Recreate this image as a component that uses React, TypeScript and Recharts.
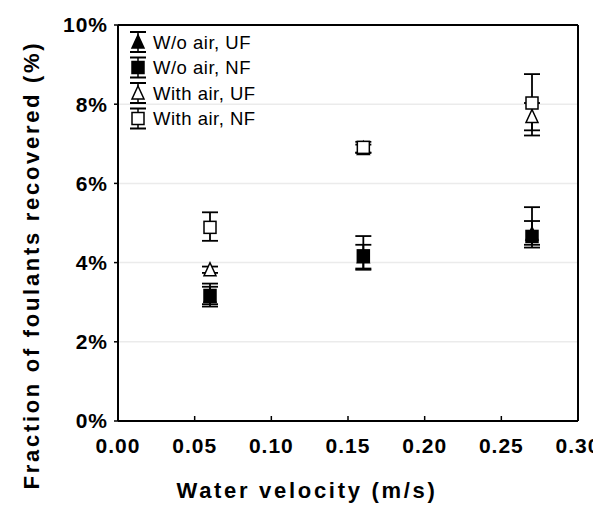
import React from 'react';
import { ScatterChart, Scatter, XAxis, YAxis, CartesianGrid, ErrorBar, Legend } from 'recharts';

const velocities = [0.06, 0.16, 0.27];
const seriesNames = ['W/o air, UF', 'W/o air, NF', 'With air, UF', 'With air, NF'];
const woAirUF = [3.15, 4.15, 4.72];
const woAirUFErr = [[0.2, 0.24], [0.3, 0.3], [0.27, 0.68]];
const woAirNF = [3.17, 4.17, 4.66];
const woAirNFErr = [[0.28, 0.3], [0.35, 0.5], [0.28, 0.39]];
const withAirUF = [3.82, 6.88, 7.69];
const withAirUFErr = [[0.08, 0.08], [0.1, 0.1], [0.35, 0.34]];
const withAirNF = [4.89, 6.91, 8.03];
const withAirNFErr = [[0.34, 0.38], [0.14, 0.14], [0.82, 0.73]];
const xTicks = [0, 0.05, 0.1, 0.15, 0.2, 0.25, 0.3];
const yTicks = [0, 2, 4, 6, 8, 10];

const FONT = '"Liberation Sans", Arial, sans-serif';

const build = (vals: number[], errs: number[][]) =>
  velocities.map((x, i) => ({ x, y: vals[i], err: errs[i] }));

const drawMarker = (kind: number, cx: number, cy: number) => {
  const filled = kind < 2;
  const tri = kind % 2 === 0;
  const fill = filled ? '#000' : '#fff';
  if (tri) {
    return (
      <polygon
        points={`${cx},${cy - 7} ${cx + 6},${cy + 6} ${cx - 6},${cy + 6}`}
        fill={fill}
        stroke="#000"
        strokeWidth={1.5}
      />
    );
  }
  return <rect x={cx - 6} y={cy - 6} width={12} height={12} fill={fill} stroke="#000" strokeWidth={1.5} />;
};

const makeShape = (kind: number) => (props: any) => {
  const { cx, cy } = props;
  if (cx == null || cy == null) return <g />;
  return drawMarker(kind, cx, cy);
};

const LegendContent = () => (
  <svg width={170} height={110} style={{ display: 'block', overflow: 'visible' }}>
    {seriesNames.map((n, i) => {
      const cy = 14 + i * 25.5;
      const cx = 18;
      return (
        <g key={n}>
          <line x1={cx} x2={cx} y1={cy - 10} y2={cy + 10} stroke="#000" strokeWidth={1.5} />
          <line x1={cx - 8} x2={cx + 8} y1={cy - 10} y2={cy - 10} stroke="#000" strokeWidth={2} />
          <line x1={cx - 8} x2={cx + 8} y1={cy + 10} y2={cy + 10} stroke="#000" strokeWidth={2} />
          {drawMarker(i, cx, cy)}
          <text x={33} y={cy} dy="0.36em" fontSize={18.5} fontFamily={FONT} letterSpacing={0.5} fill="#000">
            {n}
          </text>
        </g>
      );
    })}
  </svg>
);

const XTick = (props: any) => {
  const { x, y, payload } = props;
  return (
    <g>
      <line x1={x} x2={x} y1={y} y2={y - 5} stroke="#000" strokeWidth={1.5} />
      <text x={x} y={y + 32} textAnchor="middle" fontSize={21} fontWeight="bold" fontFamily={FONT} letterSpacing={1} fill="#000">
        {Number(payload.value).toFixed(2)}
      </text>
    </g>
  );
};

const XTitle = (props: any) => {
  const vb = props.viewBox || { x: 0, y: 0 };
  return (
    <text x={vb.x + 189} y={vb.y + 77} textAnchor="middle" fontSize={22} fontWeight="bold" fontFamily={FONT} letterSpacing={2.7} fill="#000">
      Water velocity (m/s)
    </text>
  );
};

const YTitle = (props: any) => {
  const vb = props.viewBox || { x: 0, y: 0 };
  const cx = vb.x + 13;
  const cy = vb.y + 240;
  return (
    <text
      x={cx}
      y={cy}
      transform={`rotate(-90, ${cx}, ${cy})`}
      textAnchor="middle"
      dominantBaseline="central"
      fontSize={22}
      fontWeight="bold"
      fontFamily={FONT}
      letterSpacing={2.7}
      fill="#000"
    >
      Fraction of foulants recovered (%)
    </text>
  );
};

const series = [
  { name: seriesNames[0], data: build(woAirUF, woAirUFErr) },
  { name: seriesNames[1], data: build(woAirNF, woAirNFErr) },
  { name: seriesNames[2], data: build(withAirUF, withAirUFErr) },
  { name: seriesNames[3], data: build(withAirNF, withAirNFErr) },
];

export default function App() {
  return (
    <ScatterChart width={593} height={502} margin={{ top: 16, right: 22, bottom: 59, left: 10 }} style={{ background: '#fff', overflow: 'visible' }}>
      <CartesianGrid vertical={false} stroke="#ebebeb" strokeWidth={1.5} />
      <XAxis
        type="number"
        dataKey="x"
        domain={[0, 0.3]}
        ticks={xTicks}
        interval={0}
        height={30}
        axisLine={{ stroke: '#000', strokeWidth: 2 }}
        tickLine={false}
        tickSize={0}
        tickMargin={0}
        tick={<XTick />}
        label={<XTitle />}
      />
      <XAxis
        xAxisId="top"
        orientation="top"
        type="number"
        domain={[0, 0.3]}
        height={1}
        tick={false}
        tickLine={false}
        axisLine={{ stroke: '#000', strokeWidth: 2 }}
      />
      <YAxis
        type="number"
        dataKey="y"
        domain={[0, 10]}
        ticks={yTicks}
        interval={0}
        width={100}
        axisLine={{ stroke: '#000', strokeWidth: 2 }}
        tickLine={{ stroke: '#000', strokeWidth: 1.5 }}
        tickSize={4}
        tickMargin={6}
        tickFormatter={(v: number) => `${v}%`}
        tick={{ fontSize: 21, fontWeight: 'bold', fontFamily: FONT, fill: '#000', letterSpacing: 1 }}
        label={<YTitle />}
      />
      <YAxis
        yAxisId="right"
        orientation="right"
        type="number"
        domain={[0, 10]}
        width={1}
        tick={false}
        tickLine={false}
        axisLine={{ stroke: '#000', strokeWidth: 2 }}
      />
      <Legend
        layout="vertical"
        align="center"
        verticalAlign="middle"
        content={<LegendContent />}
        wrapperStyle={{ position: 'absolute', left: 112, top: 20, width: 170, height: 110 }}
      />
      {series.map((s, i) => (
        <Scatter key={s.name} name={s.name} data={s.data} shape={makeShape(i)} isAnimationActive={false}>
          <ErrorBar dataKey="err" direction="y" width={8} stroke="#000" strokeWidth={1.8} />
        </Scatter>
      ))}
    </ScatterChart>
  );
}
